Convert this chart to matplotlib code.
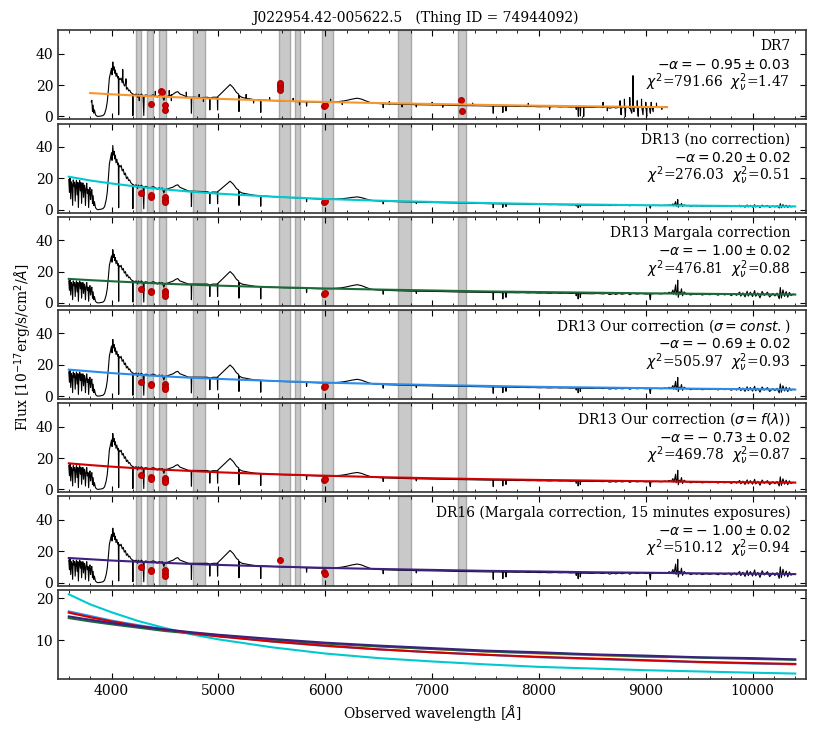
import numpy as np
import matplotlib
matplotlib.use("Agg")
import matplotlib.pyplot as plt
from matplotlib.ticker import MultipleLocator, FixedLocator

plt.rcParams['font.family'] = ['DejaVu Serif']
plt.rcParams['mathtext.fontset'] = 'dejavusans'

title = "J022954.42-005622.5   (Thing ID = 74944092)"

# gray windows [A]
bands = [(4228, 4272), (4335, 4387), (4445, 4512), (4765, 4877), (5570, 5675),
         (5720, 5760), (5970, 6075), (6682, 6800), (7240, 7315)]

# base spectrum (DR13 Margala panel), (wavelength, flux)
spec = np.array([
    (3600, 14), (3606, 8), (3612, 15), (3618, 5), (3624, 13), (3630, 12), (3636, 2), (3642, 14),
    (3648, 11), (3654, 13), (3660, 4), (3666, 12), (3672, 14), (3678, 7), (3684, 13), (3690, 1),
    (3696, 12), (3702, 14), (3708, 9), (3714, 13), (3720, 3), (3726, 11), (3732, 13), (3738, 6),
    (3744, 12), (3750, 10), (3756, 2), (3762, 11), (3768, 13), (3774, 8), (3780, 10), (3786, 1),
    (3792, 9), (3798, 11), (3804, 5), (3810, 9), (3816, 10), (3822, 3), (3828, 7), (3834, 2),
    (3840, 4), (3850, 1), (3860, 0.3), (3870, 0), (3880, 0), (3900, 0.2), (3920, 0.5), (3935, 1.5),
    (3950, 5), (3960, 9), (3970, 16), (3980, 24), (3990, 27), (4000, 30), (4005, 26), (4012, 34),
    (4018, 29), (4024, 31), (4030, 27), (4036, 29), (4042, 25), (4050, 27), (4058, 24), (4064, 25),
    (4067, 1), (4070, 24), (4080, 23), (4090, 24), (4100, 21), (4110, 22), (4120, 19), (4130, 20),
    (4140, 17), (4150, 18), (4160, 16), (4170, 16.5), (4180, 15), (4190, 14.5), (4197, 14), (4200, 0.5),
    (4203, 14), (4215, 13.5), (4230, 14), (4245, 12), (4250, 14), (4265, 13), (4280, 14), (4295, 13),
    (4302, 0.5), (4306, 13), (4320, 13.5), (4340, 13), (4355, 12.5), (4370, 13), (4390, 13.5), (4410, 13),
    (4430, 12), (4445, 13), (4460, 12.5), (4475, 13), (4490, 10), (4500, 12), (4520, 12.5), (4540, 13),
    (4560, 13.5), (4580, 14), (4600, 15), (4620, 15.5), (4640, 14), (4660, 13.5), (4680, 13), (4700, 12.5),
    (4720, 12), (4745, 12), (4748, 2), (4751, 12), (4780, 12), (4820, 12), (4860, 12), (4900, 12),
    (4918, 11.5), (4920, 4), (4923, 11.5), (4950, 12), (4990, 12), (4993, 4), (4996, 12.5), (5020, 14),
    (5050, 16), (5080, 18), (5110, 20), (5140, 18), (5170, 15), (5190, 14), (5193, 3), (5196, 13),
    (5220, 12), (5260, 11.5), (5300, 11), (5350, 10.5), (5394, 10.4), (5397, 2.5), (5400, 10.3),
    (5450, 10.2), (5500, 10.0), (5550, 9.9), (5600, 9.7), (5650, 9.6), (5700, 9.5), (5750, 9.4),
    (5800, 9.3), (5823, 9.3), (5826, 6.5), (5829, 9.2), (5860, 9.2), (5900, 9.1), (5950, 9.0),
    (6000, 9.0), (6050, 9.1), (6100, 9.3), (6150, 9.6), (6200, 10.2), (6250, 11.0), (6300, 11.6),
    (6340, 11.0), (6380, 9.9), (6420, 8.9), (6460, 8.4), (6500, 8.2), (6540, 8.0), (6543, 5.5),
    (6546, 8.0), (6600, 7.9), (6700, 7.7), (6800, 7.6), (6850, 7.4), (6853, 6.0), (6856, 7.4),
    (6900, 7.4), (7000, 7.3), (7100, 7.2), (7200, 7.0), (7300, 6.9), (7400, 6.8), (7500, 6.7),
    (7570, 6.6), (7573, 2.0), (7576, 6.6), (7620, 6.6), (7660, 6.5), (7663, 2.5), (7666, 6.5),
    (7690, 6.5), (7693, 3.5), (7696, 6.5), (7750, 6.5), (7800, 6.4), (7850, 6.5), (7900, 6.3),
    (7950, 6.4), (8000, 6.2), (8050, 6.3), (8100, 6.1), (8150, 6.3), (8200, 6.1), (8250, 6.2),
    (8300, 6.0), (8345, 6.1), (8350, 4.5), (8355, 6.1), (8365, 6.0), (8368, 2.5), (8372, 6.0),
    (8385, 5.9), (8388, 3.5), (8392, 5.9), (8430, 5.9), (8500, 5.8), (8550, 6.0), (8600, 5.7),
    (8640, 6.1), (8660, 5.3), (8700, 5.9), (8720, 5.4), (8750, 6.0), (8780, 5.5), (8800, 5.8),
    (8830, 6.3), (8850, 5.2), (8880, 6.1), (8920, 5.6), (8960, 6.0), (9000, 5.6), (9035, 5.8),
    (9040, 3.0), (9044, 2.0), (9048, 5.7), (9060, 5.8), (9100, 6.0), (9150, 5.7), (9180, 6.3),
    (9200, 5.9), (9220, 6.8), (9240, 6.0), (9255, 8.2), (9262, 5.5), (9270, 7.2), (9280, 11.5),
    (9285, 5.0), (9295, 7.7), (9300, 14.5), (9305, 3.5), (9315, 7.0), (9325, 5.6), (9335, 9.0),
    (9345, 4.5), (9360, 7.0), (9380, 5.5), (9400, 6.0), (9420, 5.0), (9450, 5.7), (9480, 5.3),
    (9500, 5.8), (9530, 5.0), (9560, 5.6), (9600, 5.2), (9640, 5.7), (9680, 4.9), (9700, 5.8),
    (9740, 5.1), (9780, 5.9), (9800, 4.6), (9830, 6.0), (9850, 4.8), (9880, 6.9), (9890, 4.3),
    (9910, 6.4), (9930, 3.8), (9950, 7.4), (9960, 4.3), (9980, 6.8), (10000, 4.0), (10020, 7.8),
    (10030, 4.2), (10050, 6.3), (10070, 3.2), (10090, 7.3), (10110, 4.7), (10140, 6.8), (10160, 3.7),
    (10190, 6.0), (10210, 4.4), (10230, 6.2), (10250, 2.6), (10260, 9.8), (10270, 3.1), (10285, 8.3),
    (10300, 4.1), (10315, 7.2), (10330, 3.6), (10345, 6.7), (10360, 4.6), (10380, 5.6),
])

# extra DR7 noise / spikes
dr7_extra = np.array([
    (4103, 24), (4105, 30), (4107, 23), (4133, 21), (4135, 24), (4137, 20),
    (4258, 13.5), (4260, 10), (4262, 13.5), (4408, 13), (4410, 16), (4412, 13),
    (4538, 13), (4540, 16.5), (4542, 13), (4558, 13.5), (4560, 10), (4562, 13.5),
    (4698, 12.5), (4700, 15.5), (4702, 12.5), (4818, 12), (4820, 14), (4822, 12),
    (4858, 12), (4860, 9.5), (4862, 12), (5258, 11.5), (5260, 14), (5262, 11.5),
    (5328, 10.7), (5330, 8.5), (5332, 10.7), (5478, 10.1), (5480, 12), (5482, 10.1),
    (5698, 9.5), (5700, 11.5), (5702, 9.5), (5758, 9.4), (5760, 7.3), (5762, 9.4),
    (6048, 9.1), (6050, 11), (6052, 9.1), (6158, 9.7), (6160, 7.5), (6162, 9.7),
    (6598, 7.9), (6600, 9.5), (6602, 7.9), (6718, 7.7), (6720, 6), (6722, 7.7),
    (6998, 7.3), (7001, 9), (7003, 7.3), (7098, 7.2), (7101, 5.8), (7103, 7.2),
    (7378, 6.8), (7380, 8.5), (7382, 6.8), (7898, 6.3), (7901, 8.3), (7903, 6.3),
    (8098, 6.1), (8101, 4.5), (8103, 6.1), (8370, 0), (8389, 0.3), (8418, 5.9), (8420, 0), (8422, 5.9),
    (8598, 5.8), (8601, 9), (8603, 5.8), (8638, 6.0), (8641, 3.5), (8643, 6.0),
    (8758, 5.9), (8760, 10), (8763, 5.9), (8770, 1), (8773, 5.8),
    (8798, 5.8), (8801, 11), (8803, 5.8), (8810, 0), (8813, 5.8),
    (8848, 5.4), (8851, 12), (8853, 5.4), (8870, 2), (8873, 5.8),
    (8878, 6.1), (8881, 26), (8883, 6.1), (8890, 3), (8893, 5.9),
    (8918, 5.6), (8921, 10), (8923, 5.6), (8930, 0), (8933, 5.7),
    (8958, 6.0), (8961, 11), (8963, 6.0), (8975, 1), (8978, 5.8),
    (8998, 5.6), (9001, 9), (9003, 5.6), (9010, 0), (9013, 5.7),
    (9052, 9), (9055, 5.8), (9070, 3), (9073, 5.8),
    (9098, 6.0), (9101, 8.5), (9103, 6.0), (9148, 5.7), (9151, 4.5), (9153, 5.7),
])

# continuum fits
fit_wave = [3600, 3800, 4000, 4250, 4500, 4750, 5000, 5500, 6000, 6500, 7000, 7500, 8000, 8500,
            9000, 9500, 10000, 10400]
fit_nocorr = [21.0, 18.6, 16.7, 14.6, 12.9, 11.4, 10.2, 8.3, 6.8, 5.7, 4.9, 4.2, 3.6, 3.2, 2.8, 2.5, 2.2, 2.0]
fit_margala = [15.3, 14.5, 13.8, 13.0, 12.2, 11.6, 11.0, 10.0, 9.2, 8.5, 7.9, 7.3, 6.9, 6.5, 6.1, 5.8, 5.5, 5.3]
fit_const = [16.9, 15.8, 14.7, 13.6, 12.6, 11.7, 11.0, 9.7, 8.6, 7.8, 7.1, 6.5, 5.9, 5.5, 5.1, 4.7, 4.4, 4.2]
fit_flam = [16.6, 15.5, 14.5, 13.4, 12.5, 11.7, 10.9, 9.7, 8.7, 7.8, 7.1, 6.5, 6.0, 5.6, 5.2, 4.8, 4.5, 4.3]
fit_dr16 = [15.7, 14.9, 14.1, 13.3, 12.6, 11.9, 11.3, 10.3, 9.4, 8.7, 8.1, 7.5, 7.1, 6.6, 6.3, 5.9, 5.7, 5.4]
dr7_wave = [3800, 4000, 4250, 4500, 4750, 5000, 5500, 6000, 6500, 7000, 7500, 8000, 8500, 9000, 9200]
fit_dr7 = [14.9, 14.1, 13.2, 12.5, 11.8, 11.2, 10.1, 9.2, 8.5, 7.9, 7.3, 6.8, 6.4, 6.0, 5.9]

# rejected points (red)
red_dr7 = [(4365, 8.2), (4466, 16), (4470, 15.3), (4497, 7), (4500, 4.3), (5575, 17), (5577, 18.5),
           (5578, 20), (5580, 21), (5990, 6.5), (5996, 7.3), (7275, 10.3), (7277, 3.5)]
red_nocorr = [(4272, 10.5), (4365, 8.3), (4367, 9.3), (4497, 7.8), (4499, 6.2), (4500, 4.6), (5990, 4.7), (5994, 5.3)]
red_other = [(4272, 9), (4365, 7.8), (4367, 6.8), (4497, 7.5), (4499, 6), (4500, 4.5), (5990, 5.8), (5996, 6.5)]
red_dr16 = [(4272, 9.7), (4365, 8), (4367, 7.2), (4497, 8), (4499, 6.2), (4500, 4.4), (5575, 14.6),
            (5990, 6.5), (5996, 5.8)]

labels = ["DR7", "DR13 (no correction)", "DR13 Margala correction",
          r"DR13 Our correction ($\sigma = const.$)", r"DR13 Our correction ($\sigma = f(\lambda)$)",
          "DR16 (Margala correction, 15 minutes exposures)"]
alphas = [r"$-\alpha = -\;0.95 \pm 0.03$", r"$-\alpha = 0.20 \pm 0.02$", r"$-\alpha = -\;1.00 \pm 0.02$",
          r"$-\alpha = -\;0.69 \pm 0.02$", r"$-\alpha = -\;0.73 \pm 0.02$", r"$-\alpha = -\;1.00 \pm 0.02$"]
chi2 = ["791.66", "276.03", "476.81", "505.97", "469.78", "510.12"]
chi2nu = ["1.47", "0.51", "0.88", "0.93", "0.87", "0.94"]

colors = ['#f7952e', '#00c9cf', '#1b6b3a', '#2b8ceb', '#d10000', '#3d2080']

base_w = spec[:, 0]
base_f = spec[:, 1]
margala_on_grid = np.interp(base_w, fit_wave, fit_margala)

fig, axes = plt.subplots(7, 1, figsize=(8.3, 7.38), sharex=True, gridspec_kw=dict(hspace=0.045))
fig.subplots_adjust(left=0.07, right=0.971, top=0.959, bottom=0.080)

fits = [None, fit_nocorr, fit_margala, fit_const, fit_flam, fit_dr16]
reds = [red_dr7, red_nocorr, red_other, red_other, red_other, red_dr16]

for i in range(6):
    ax = axes[i]
    for a, b in bands:
        ax.axvspan(a, b, facecolor='#c9c9c9', edgecolor='#a8a8a8', lw=1, zorder=0)
    if i == 0:
        m = (base_w >= 3810) & (base_w <= 9200)
        w = base_w[m]
        f = base_f[m] * np.interp(w, dr7_wave, fit_dr7) / margala_on_grid[m]
        w = np.concatenate([w, dr7_extra[:, 0]])
        f = np.concatenate([f, dr7_extra[:, 1]])
        order = np.argsort(w, kind='stable')
        w, f = w[order], f[order]
        fw, ff = dr7_wave, fit_dr7
    else:
        w = base_w
        f = base_f * np.interp(w, fit_wave, fits[i]) / margala_on_grid
        fw, ff = fit_wave, fits[i]
    ax.plot(w, f, color='black', lw=0.8, zorder=2)
    rp = np.array(reds[i])
    ax.plot(rp[:, 0], rp[:, 1], 'o', color='#d40000', ms=4, mec='#b00000', zorder=3)
    ax.plot(fw, ff, color=colors[i], lw=1.5, zorder=4)
    ax.set_ylim(-2, 55)
    ax.yaxis.set_major_locator(FixedLocator([0, 20, 40]))
    ax.text(0.979, 0.82, labels[i], transform=ax.transAxes, ha='right', va='center', fontsize=10)
    ax.text(0.979, 0.615, alphas[i], transform=ax.transAxes, ha='right', va='center', fontsize=10)
    ax.text(0.979, 0.41, r"$\chi^2$=" + chi2[i] + r"  $\chi^2_\nu$=" + chi2nu[i],
            transform=ax.transAxes, ha='right', va='center', fontsize=10)

ax = axes[6]
ax.plot(dr7_wave, fit_dr7, color=colors[0], lw=1.5)
for i in range(1, 6):
    ax.plot(fit_wave, fits[i], color=colors[i], lw=1.5)
ax.set_ylim(0.7, 22.1)
ax.yaxis.set_major_locator(FixedLocator([10, 20]))
ax.set_xlabel(r"Observed wavelength [$\AA$]", fontsize=10)

for ax in axes:
    ax.set_xlim(3500, 10500)
    ax.xaxis.set_major_locator(MultipleLocator(1000))
    ax.xaxis.set_minor_locator(MultipleLocator(200))
    ax.tick_params(which='both', direction='in', top=True, right=True, labelsize=10)
    ax.tick_params(which='major', length=4)
    ax.tick_params(which='minor', length=2)
    for s in ax.spines.values():
        s.set_linewidth(1.2)
        s.set_color('0.2')

fig.suptitle(title, y=0.985, fontsize=10)
fig.text(0.028, 0.53, r"Flux [10$^{-17}$erg/s/cm$^2$/$\AA$]", rotation=90, ha='center', va='center', fontsize=10)

fig.savefig("out.png", dpi=100)
